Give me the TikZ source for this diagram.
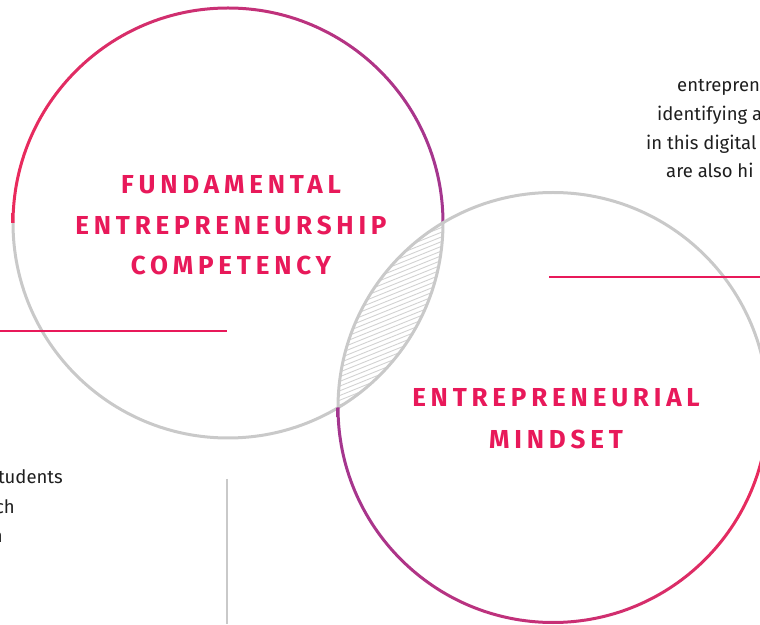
\documentclass[tikz,border=0pt]{standalone}
\usepackage{fontspec}
\setmainfont{Fira Sans}
\newfontfamily\headfont[LetterSpace=18.5]{Fira Sans}
\definecolor{headpink}{HTML}{E8195A}
\definecolor{ringpink}{HTML}{EA2A5C}
\definecolor{ringpurple}{HTML}{A4368F}
\definecolor{ringgray}{HTML}{C9C9C9}
\definecolor{hatchgray}{HTML}{D2D2D2}
\definecolor{bodytext}{HTML}{1E1E1E}
\begin{document}
\begin{tikzpicture}[x=1pt,y=1pt,
  head/.style={text=headpink, font=\headfont\bfseries\fontsize{26}{26}\selectfont, anchor=base, inner sep=0pt},
  bodyw/.style={text=bodytext, font=\fontsize{18.5}{18.5}\selectfont, anchor=base west, inner sep=0pt},
  bodye/.style={text=bodytext, font=\fontsize{18.5}{18.5}\selectfont, anchor=base east, inner sep=0pt},
  ring/.style={line width=3pt, draw=ringgray},
  hatchline/.style={draw=hatchgray, line width=0.9pt},
  pinkline/.style={draw=headpink, line width=2pt},
  grayline/.style={draw=ringgray, line width=1.3pt}]
\useasboundingbox (0,0) rectangle (760,624);
\clip (0,0) rectangle (760,624);
\coordinate (c1) at (228,401);
\coordinate (c2) at (553,216.5);
% hatched lens
\begin{scope}
  \clip (c1) circle (215);
  \clip (c2) circle (215);
  \foreach \k in {0,...,60} \draw[hatchline] (320,150+4.7*\k) -- ++(22:170);
\end{scope}
% circle 1
\draw[ring] (13,401) arc[start angle=180, end angle=360, radius=215];
\shade[left color=ringpink, right color=ringpurple]
  (11.5,401) arc[start angle=180, end angle=0, radius=216.5]
  -- (441.5,401) arc[start angle=0, end angle=180, radius=213.5] -- cycle;
% circle 2
\draw[ring] (338,216.5) arc[start angle=180, end angle=0, radius=215];
\shade[left color=ringpurple, right color=ringpink]
  (336.5,216.5) arc[start angle=180, end angle=360, radius=216.5]
  -- (766.5,216.5) arc[start angle=360, end angle=180, radius=213.5] -- cycle;
% lines
\coordinate (la) at (0,293.3);
\coordinate (lb) at (226.7,293.3);
\coordinate (ra) at (549,347.3);
\coordinate (rb) at (760,347.3);
\coordinate (va) at (227,145);
\coordinate (vb) at (227,0);
\draw[pinkline] (la) -- (lb);
\draw[pinkline] (ra) -- (rb);
\draw[grayline] (va) -- (vb);
% headings
\node[head] (h1a) at (231,430) {FUNDAMENTAL};
\node[head] (h1b) at (231,389.5) {ENTREPRENEURSHIP};
\node[head] (h1c) at (231,349) {COMPETENCY};
\node[head] (h2a) at (556,217.3) {ENTREPRENEURIAL};
\node[head] (h2b) at (556,175.7) {MINDSET};
% body text fragments
\node[bodyw] (t1) at (677,532) {entrepren};
\node[bodyw] (t2) at (657,503) {identifying a};
\node[bodyw] (t3) at (646,474) {in this digital};
\node[bodyw] (t4) at (666,446) {are also hi};
\node[bodye] (b1) at (63,140) {tudents};
\node[bodye] (b2) at (15,111) {ch};
\node[bodye] (b3) at (3,82) {n};
\end{tikzpicture}
\end{document}
